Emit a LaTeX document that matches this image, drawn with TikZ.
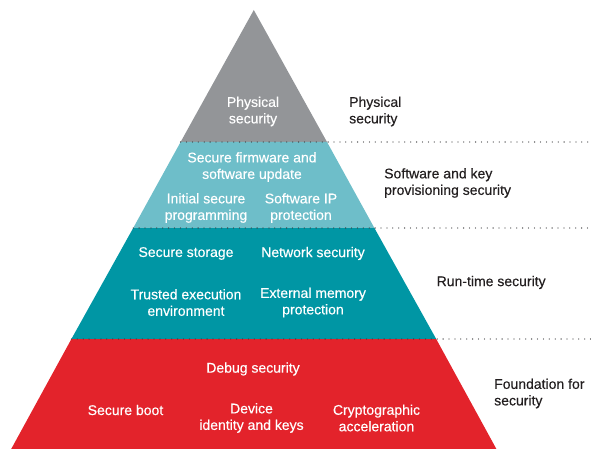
\documentclass[tikz,border=0pt]{standalone}
\usepackage{fontspec}
\setmainfont{Liberation Sans}
\newfontfamily\medfont{Liberation Sans}[FakeBold=0.3]
\definecolor{pgray}{RGB}{147,149,152}
\definecolor{plteal}{RGB}{110,190,201}
\definecolor{pdteal}{RGB}{0,150,164}
\definecolor{pred}{RGB}{227,35,43}
\definecolor{plabel}{RGB}{35,31,32}
\definecolor{pdot}{RGB}{60,60,62}
\begin{document}
\begin{tikzpicture}[x=1pt,y=-1pt,
  intext/.style={inner sep=0pt,align=center,text=white,font=\medfont\fontsize{14}{16.5}\selectfont},
  sidelabel/.style={inner sep=0pt,align=left,anchor=west,text=plabel,font=\medfont\fontsize{14}{16.5}\selectfont},
  sepline/.style={pdot,line width=1.3pt,line cap=round,dash pattern=on 0pt off 5.9pt}]
\useasboundingbox (0,0) rectangle (591,449);
% band corners
\coordinate (apex) at (253.8,10);
\coordinate (l1) at (180.6,142); \coordinate (r1) at (327,142);
\coordinate (l2) at (133.2,228); \coordinate (r2) at (374.4,228);
\coordinate (l3) at (71.4,339);  \coordinate (r3) at (436.2,339);
\coordinate (l4) at (11.2,449);  \coordinate (r4) at (496.4,449);
\coordinate (e1) at (591,142);
\coordinate (e2) at (591,228);
\coordinate (e3) at (591,339);
% bands
\fill[pgray] (apex) -- (r1) -- (l1) -- cycle;
\fill[plteal] (l1) -- (r1) -- (r2) -- (l2) -- cycle;
\fill[pdteal] (l2) -- (r2) -- (r3) -- (l3) -- cycle;
\fill[pred] (l3) -- (r3) -- (r4) -- (l4) -- cycle;
% dotted separators
\draw[sepline] (l1) -- (e1);
\draw[sepline] (l2) -- (e2);
\draw[sepline] (l3) -- (e3);
% texts inside
\node[intext] (phys) at (253,111.5) {Physical\\security};
\node[intext] (fw) at (252,167) {Secure firmware and\\software update};
\node[intext] (init) at (206,208) {Initial secure\\programming};
\node[intext] (swip) at (301,208) {Software IP\\protection};
\node[intext] (stor) at (186,253.5) {Secure storage};
\node[intext] (net) at (313,253.5) {Network security};
\node[intext] (tee) at (186,302.5) {Trusted execution\\environment};
\node[intext] (extm) at (313,302.5) {External memory\\protection};
\node[intext] (dbg) at (253,369) {Debug security};
\node[intext] (boot) at (125.5,410) {Secure boot};
\node[intext] (dev) at (251.5,418) {Device\\identity and keys};
\node[intext] (cry) at (376.5,418) {Cryptographic\\acceleration};
% side labels
\node[sidelabel] (lphys) at (349,111.5) {Physical\\security};
\node[sidelabel] (lsw) at (384,183) {Software and key\\provisioning security};
\node[sidelabel] (lrun) at (436.5,282.5) {Run-time security};
\node[sidelabel] (lfound) at (494,393.5) {Foundation for\\security};
\end{tikzpicture}
\end{document}
